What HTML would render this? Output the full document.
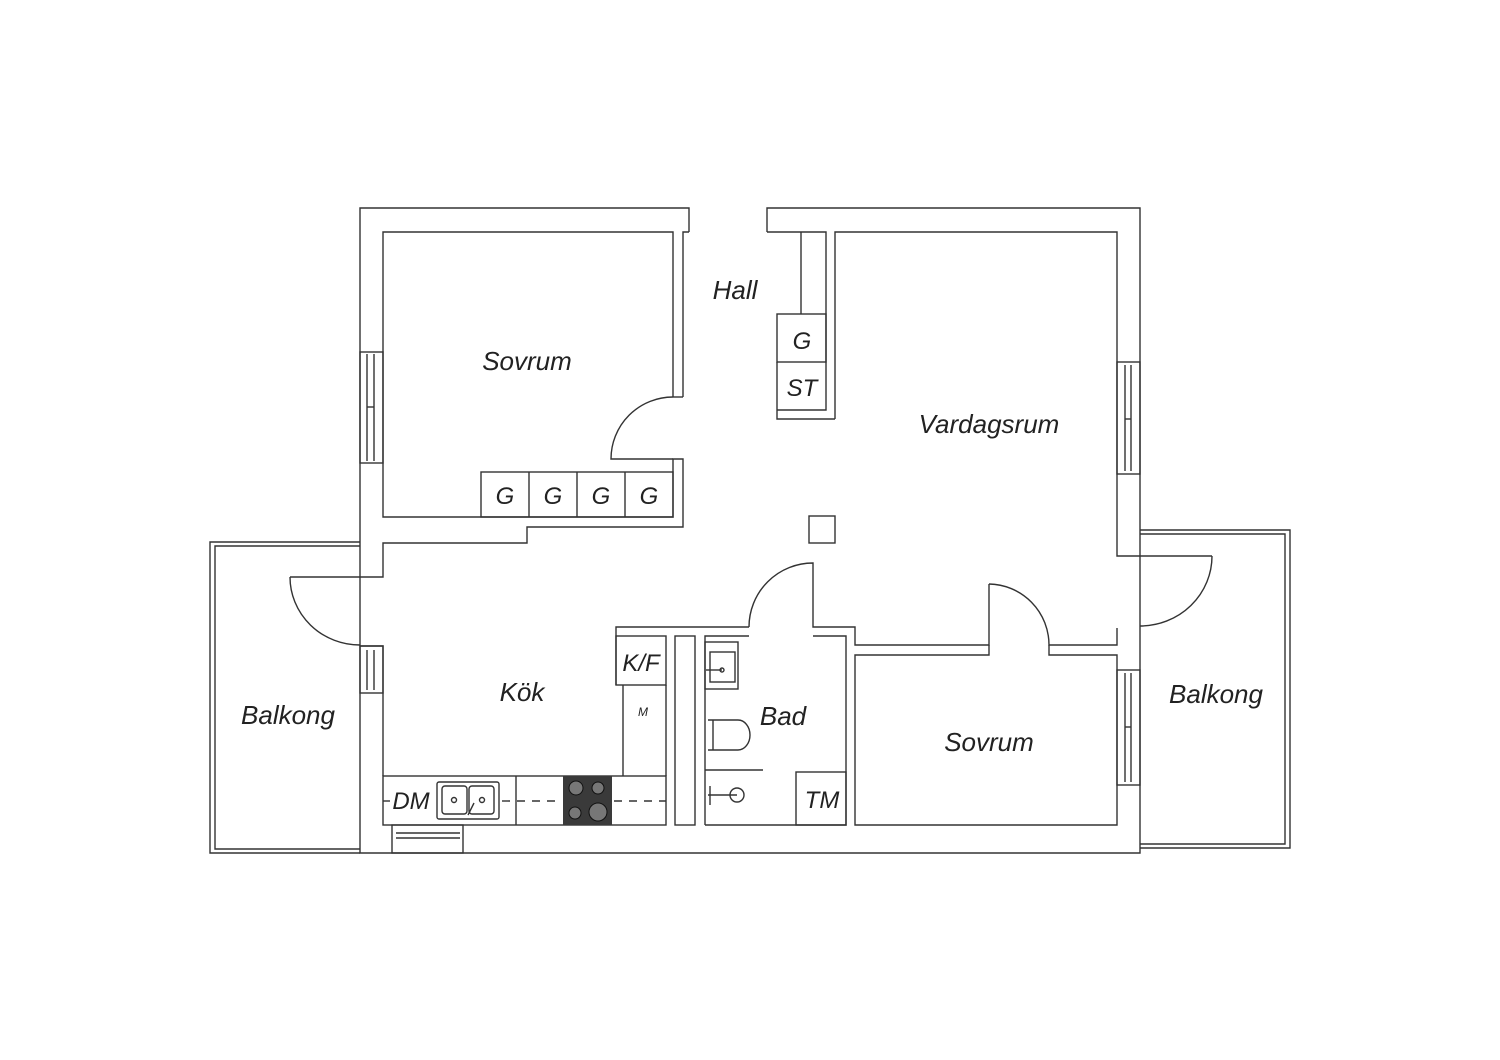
<!DOCTYPE html>
<html><head><meta charset="utf-8"><style>
html,body{margin:0;padding:0;background:#fff;}
svg{display:block}
text{font-family:"Liberation Sans",sans-serif;font-style:italic;fill:#222;}
</style></head><body>
<svg width="1500" height="1060" viewBox="0 0 1500 1060" xmlns="http://www.w3.org/2000/svg">
<g fill="none" stroke="#333" stroke-width="1.4">
<polyline points="689,232 689,208 360,208 360,853 1140,853 1140,208 767,208 767,232"/>
<polyline points="360,542 210,542 210,853 360,853"/>
<polyline points="360,546 215,546 215,849 360,849"/>
<polyline points="1140,530 1290,530 1290,848 1140,848"/>
<polyline points="1140,534 1285,534 1285,844 1140,844"/>
<polyline points="683,397 683,232 689,232"/>
<polyline points="673,397 673,232 383,232 383,517 673,517 673,459 683,459 683,527 527,527 527,543 383,543 383,577 290,577"/>
<line x1="673" y1="397" x2="683" y2="397"/>
<path d="M673,397 A62,62 0 0 0 611,459 L673,459"/>
<rect x="481" y="472" width="192" height="45"/>
<line x1="529" y1="472" x2="529" y2="517"/><line x1="577" y1="472" x2="577" y2="517"/><line x1="625" y1="472" x2="625" y2="517"/>
<rect x="360" y="352" width="23" height="111"/>
<line x1="367" y1="354" x2="367" y2="461"/><line x1="374" y1="354" x2="374" y2="461"/><line x1="367" y1="407" x2="374" y2="407"/>
<path d="M290,577 A70,68 0 0 0 360,645"/>
<polyline points="360,646 383,646 383,776"/>
<rect x="360" y="646" width="23" height="47"/>
<line x1="367" y1="650" x2="367" y2="690"/><line x1="374" y1="650" x2="374" y2="690"/>
<rect x="383" y="776" width="283" height="49"/>
<line x1="516" y1="776" x2="516" y2="825"/>
<line x1="383" y1="801" x2="390" y2="801"/>
<line x1="502" y1="801" x2="562" y2="801" stroke-dasharray="8,7"/>
<line x1="614" y1="801" x2="666" y2="801" stroke-dasharray="8,7"/>
<rect x="392" y="825" width="71" height="28"/>
<line x1="396" y1="833" x2="460" y2="833"/><line x1="396" y1="838" x2="460" y2="838"/>
<polyline points="616,685 616,627 749,627"/>
<rect x="616" y="636" width="50" height="49"/>
<polyline points="623,685 623,776"/><line x1="666" y1="685" x2="666" y2="776"/>
<rect x="675" y="636" width="20" height="189"/>
<polyline points="705,825 705,636 749,636"/>
<polyline points="813,636 846,636 846,825 705,825"/>
<path d="M749,627 A64,64 0 0 1 813,563 L813,627 L855,627 L855,645 L989,645 L989,584"/>
<path d="M989,584 A61,61 0 0 1 1049,645 L1117,645 L1117,628"/>
<polyline points="835,419 835,232 1117,232 1117,556 1212,556"/>
<path d="M1212,556 A72,70 0 0 1 1140,626"/>
<rect x="1117" y="362" width="23" height="112"/>
<line x1="1125" y1="365" x2="1125" y2="471"/><line x1="1131" y1="365" x2="1131" y2="471"/><line x1="1125" y1="419" x2="1131" y2="419"/>
<polyline points="989,645 989,655 855,655 855,825 1117,825 1117,655 1049,655 1049,645"/>
<rect x="1117" y="670" width="23" height="115"/>
<line x1="1125" y1="673" x2="1125" y2="782"/><line x1="1131" y1="673" x2="1131" y2="782"/><line x1="1125" y1="727" x2="1131" y2="727"/>
<polyline points="767,232 826,232 826,410 777,410"/>
<line x1="801" y1="232" x2="801" y2="314"/>
<rect x="777" y="314" width="49" height="48"/>
<polyline points="777,362 777,419 835,419"/>
<rect x="809" y="516" width="26" height="27"/>
<rect x="705" y="642" width="33" height="47"/>
<rect x="710" y="652" width="25" height="30"/>
<line x1="706" y1="670" x2="722" y2="670"/><circle cx="722" cy="670" r="2"/>
<path d="M708,720 L738,720 A12,15 0 0 1 738,750 L708,750"/>
<line x1="713" y1="720" x2="713" y2="750"/>
<line x1="705" y1="770" x2="763" y2="770"/>
<circle cx="737" cy="795" r="7"/><line x1="708" y1="795" x2="737" y2="795"/>
<line x1="710" y1="786" x2="710" y2="805"/>
<rect x="796" y="772" width="50" height="53"/>
<rect x="437" y="782" width="62" height="37" rx="2"/>
<rect x="442" y="786" width="25" height="28" rx="3"/>
<rect x="469" y="786" width="25" height="28" rx="3"/>
<circle cx="454" cy="800" r="2.5"/><circle cx="482" cy="800" r="2.5"/>
<line x1="468" y1="815" x2="474" y2="803"/>
</g>
<rect x="563" y="776" width="49" height="49" fill="#3a3a3a"/>
<g fill="#777" stroke="#111" stroke-width="1">
<circle cx="576" cy="788" r="7"/><circle cx="598" cy="788" r="6"/>
<circle cx="575" cy="813" r="6"/><circle cx="598" cy="812" r="9"/>
</g>
<g font-size="26">
<text x="527" y="370" text-anchor="middle">Sovrum</text>
<text x="735" y="299" text-anchor="middle">Hall</text>
<text x="989" y="433" text-anchor="middle">Vardagsrum</text>
<text x="522" y="701" text-anchor="middle">Kök</text>
<text x="783" y="725" text-anchor="middle">Bad</text>
<text x="989" y="751" text-anchor="middle">Sovrum</text>
<text x="288" y="724" text-anchor="middle">Balkong</text>
<text x="1216" y="703" text-anchor="middle">Balkong</text>
</g>
<g font-size="24">
<text x="802" y="349" text-anchor="middle">G</text>
<text x="802" y="396" text-anchor="middle">ST</text>
<text x="505" y="504" text-anchor="middle">G</text>
<text x="553" y="504" text-anchor="middle">G</text>
<text x="601" y="504" text-anchor="middle">G</text>
<text x="649" y="504" text-anchor="middle">G</text>
<text x="641" y="671" text-anchor="middle">K/F</text>
<text x="411" y="809" text-anchor="middle">DM</text>
<text x="822" y="808" text-anchor="middle">TM</text>
</g>
<text x="643" y="716" text-anchor="middle" font-size="12">M</text>
</svg>
</body></html>
